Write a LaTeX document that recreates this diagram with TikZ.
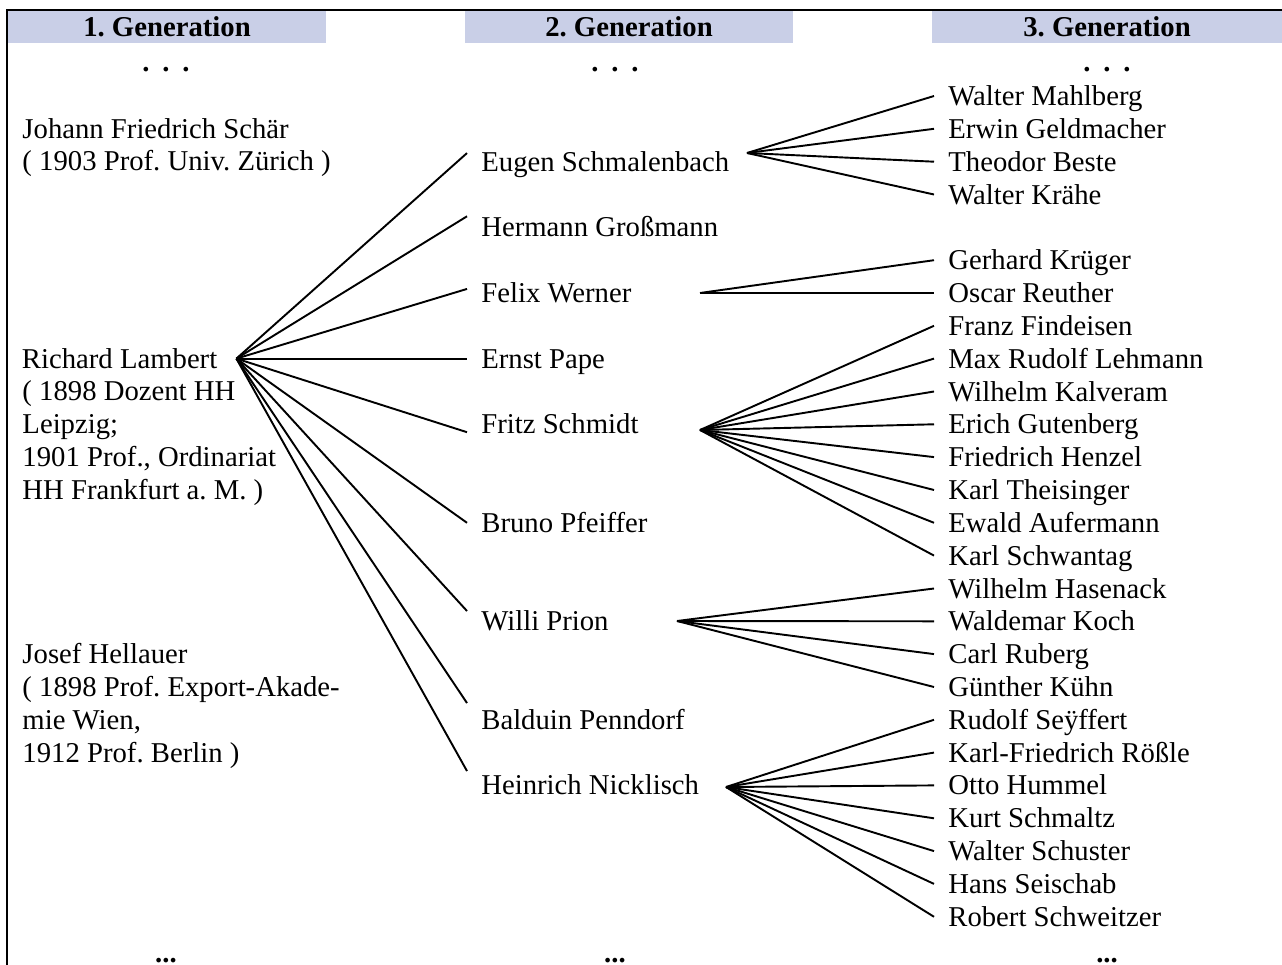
\documentclass[tikz,border=0pt]{standalone}
\usepackage{fontspec}
\setmainfont{Liberation Serif}
\frenchspacing

\definecolor{headfill}{RGB}{201,207,231}

\tikzset{
  every node/.style={font=\fontsize{12pt}{13.72pt}\selectfont},
  genhead/.style={fill=headfill, inner sep=0pt, minimum height=13.4pt,
    font=\fontsize{12pt}{13.72pt}\selectfont\bfseries},
  person/.style={anchor=west, inner sep=0pt, outer xsep=6pt, text height=8pt, text depth=0pt},
  vita/.style={anchor=base west, inner sep=0pt, align=left},
  gap/.style={anchor=base, inner sep=0pt, font=\fontsize{12pt}{13.72pt}\selectfont\bfseries},
  link/.style={line width=0.8pt},
}

\begin{document}
\begin{tikzpicture}[x=0.418pt, y=-0.418pt]
            \useasboundingbox (0,0) rectangle (1282,965);

            % Frame
            \draw[line width=1.25pt] (7,965) -- (7,10) -- (1282,10);

            % Column heads
            \node[genhead, minimum width=133pt] (gen1) at (167,27) {1. Generation};
            \node[genhead, minimum width=137.1pt] (gen2) at (629,27) {2. Generation};
            \node[genhead, minimum width=146.7pt] (gen3) at (1107,27) {3. Generation};

            \node[gap] (top1) at (166,72) {.\hspace{0.45em}.\hspace{0.45em}.};
            \node[gap] (top2) at (615,72) {.\hspace{0.45em}.\hspace{0.45em}.};
            \node[gap] (top3) at (1107,72) {.\hspace{0.45em}.\hspace{0.45em}.};

            % First generation (base = last line)
            \node[vita] (schaer) at (22,171) {Johann Friedrich Schär\\( 1903 Prof. Univ. Zürich )};
            \node[person] (lambert) at (7.6,358.6) {Richard Lambert};
            \node[vita] (lambertvita) at (22,499.4) {( 1898 Dozent HH\\Leipzig;\\1901 Prof., Ordinariat\\HH Frankfurt a. M. )};
            \node[vita] (hellauer) at (22,762) {Josef Hellauer\\( 1898 Prof. Export-Akade-\\mie Wien,\\1912 Prof. Berlin )};

            % Second generation
            \node[person] (schmalenbach) at (467,161.7) {Eugen Schmalenbach};
            \node[person] (grossmann) at (467,227.3) {Hermann Großmann};
            \node[person] (werner) at (467,293) {Felix Werner};
            \node[person] (pape) at (467,358.6) {Ernst Pape};
            \node[person] (schmidt) at (467,424.3) {Fritz Schmidt};
            \node[person] (pfeiffer) at (467,522.8) {Bruno Pfeiffer};
            \node[person] (prion) at (467,621.3) {Willi Prion};
            \node[person] (penndorf) at (467,719.8) {Balduin Penndorf};
            \node[person] (nicklisch) at (467,785.4) {Heinrich Nicklisch};

            \draw[link] ([xshift=2pt]lambert.east) -- ([yshift=3.6pt]schmalenbach.west);
            \draw[link] ([xshift=2pt]lambert.east) -- ([yshift=4.6pt]grossmann.west);
            \draw[link] ([xshift=2pt]lambert.east) -- ([yshift=1.7pt]werner.west);
            \draw[link] ([xshift=2pt]lambert.east) -- (pape.west);
            \draw[link] ([xshift=2pt]lambert.east) -- ([yshift=-3.3pt]schmidt.west);
            \draw[link] ([xshift=2pt]lambert.east) -- (pfeiffer.west);
            \draw[link] ([xshift=2pt]lambert.east) -- ([yshift=4.3pt]prion.west);
            \draw[link] ([xshift=2pt]lambert.east) -- ([yshift=7pt]penndorf.west);
            \draw[link] ([xshift=2pt]lambert.east) -- ([yshift=6pt]nicklisch.west);

            % Third generation
            \node[person] (mahlberg) at (934,96) {Walter Mahlberg};
            \node[person] (geldmacher) at (934,128.8) {Erwin Geldmacher};
            \node[person] (beste) at (934,161.7) {Theodor Beste};
            \node[person] (kraehe) at (934,194.5) {Walter Krähe};
            \node[person] (krueger) at (934,260.2) {Gerhard Krüger};
            \node[person] (reuther) at (934,293) {Oscar Reuther};
            \node[person] (findeisen) at (934,325.8) {Franz Findeisen};
            \node[person] (lehmann) at (934,358.6) {Max Rudolf Lehmann};
            \node[person] (kalveram) at (934,391.5) {Wilhelm Kalveram};
            \node[person] (gutenberg) at (934,424.3) {Erich Gutenberg};
            \node[person] (henzel) at (934,457.1) {Friedrich Henzel};
            \node[person] (theisinger) at (934,490) {Karl Theisinger};
            \node[person] (aufermann) at (934,522.8) {Ewald Aufermann};
            \node[person] (schwantag) at (934,555.6) {Karl Schwantag};
            \node[person] (hasenack) at (934,588.5) {Wilhelm Hasenack};
            \node[person] (koch) at (934,621.3) {Waldemar Koch};
            \node[person] (ruberg) at (934,654.1) {Carl Ruberg};
            \node[person] (kuehn) at (934,687) {Günther Kühn};
            \node[person] (seyffert) at (934,719.8) {Rudolf Seÿffert};
            \node[person] (roessle) at (934,752.6) {Karl-Friedrich Rößle};
            \node[person] (hummel) at (934,785.4) {Otto Hummel};
            \node[person] (schmaltz) at (934,818.3) {Kurt Schmaltz};
            \node[person] (schuster) at (934,851.1) {Walter Schuster};
            \node[person] (seischab) at (934,883.9) {Hans Seischab};
            \node[person] (schweitzer) at (934,916.8) {Robert Schweitzer};

            % Fans into the third generation
            \coordinate (hubschmalenbach) at (747,153);
            \coordinate (hubwerner) at (700,293);
            \coordinate (hubschmidt) at (700,430);
            \coordinate (hubprion) at (677,621);
            \coordinate (hubnicklisch) at (726,787);

            \draw[link] (hubschmalenbach) -- (mahlberg.west);
            \draw[link] (hubschmalenbach) -- (geldmacher.west);
            \draw[link] (hubschmalenbach) -- (beste.west);
            \draw[link] (hubschmalenbach) -- (kraehe.west);

            \draw[link] (hubwerner) -- (krueger.west);
            \draw[link] (hubwerner) -- (reuther.west);

            \draw[link] (hubschmidt) -- (findeisen.west);
            \draw[link] (hubschmidt) -- (lehmann.west);
            \draw[link] (hubschmidt) -- (kalveram.west);
            \draw[link] (hubschmidt) -- (gutenberg.west);
            \draw[link] (hubschmidt) -- (henzel.west);
            \draw[link] (hubschmidt) -- (theisinger.west);
            \draw[link] (hubschmidt) -- (aufermann.west);
            \draw[link] (hubschmidt) -- (schwantag.west);

            \draw[link] (hubprion) -- (hasenack.west);
            \draw[link] (hubprion) -- (koch.west);
            \draw[link] (hubprion) -- (ruberg.west);
            \draw[link] (hubprion) -- (kuehn.west);

            \draw[link] (hubnicklisch) -- (seyffert.west);
            \draw[link] (hubnicklisch) -- (roessle.west);
            \draw[link] (hubnicklisch) -- (hummel.west);
            \draw[link] (hubnicklisch) -- (schmaltz.west);
            \draw[link] (hubnicklisch) -- (schuster.west);
            \draw[link] (hubnicklisch) -- (seischab.west);
            \draw[link] (hubnicklisch) -- (schweitzer.west);

            \node[gap] (bottom1) at (166,962) {...};
            \node[gap] (bottom2) at (615,962) {...};
            \node[gap] (bottom3) at (1107,962) {...};
        \end{tikzpicture}
\end{document}
